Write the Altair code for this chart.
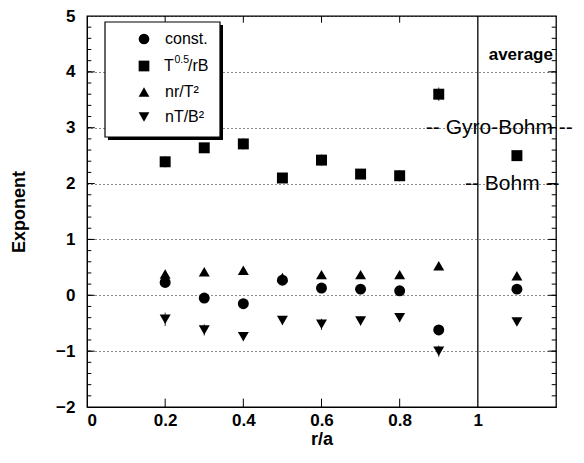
import altair as alt
import pandas as pd

# ---------------- data ----------------
r_pos = [0.2, 0.3, 0.4, 0.5, 0.6, 0.7, 0.8, 0.9]
avg_pos = 1.1
series_names = ["const.", "T05", "nr/T²", "nT/B²"]
series_shapes = ["circle", "square", "triangle-up", "triangle-down"]
t05_label_parts = ["T", "0.5", "/rB"]

const_vals = [0.23, -0.05, -0.15, 0.27, 0.13, 0.11, 0.08, -0.62]
const_avg = 0.11
const_err = [0.06, 0.07, 0.07, 0.06, 0.06, 0.06, 0.06, 0.07]
const_avg_err = 0.03

t05_vals = [2.39, 2.64, 2.71, 2.10, 2.42, 2.17, 2.14, 3.60]
t05_avg = 2.50
t05_err = [0.10, 0.08, 0.10, 0.06, 0.10, 0.08, 0.10, 0.12]
t05_avg_err = 0.04

nr_vals = [0.38, 0.42, 0.45, 0.32, 0.37, 0.37, 0.37, 0.53]
nr_avg = 0.35
nr_err = [0.05, 0.04, 0.04, 0.04, 0.04, 0.04, 0.04, 0.05]
nr_avg_err = 0.02

nt_vals = [-0.43, -0.62, -0.74, -0.45, -0.52, -0.46, -0.40, -1.00]
nt_avg = -0.48
nt_err = [0.12, 0.10, 0.08, 0.08, 0.10, 0.08, 0.08, 0.10]
nt_avg_err = 0.03

y_tick_labels = [-2, -1, 0, 1, 2, 3, 4, 5]
x_tick_labels = [0, 0.2, 0.4, 0.6, 0.8, 1]
y_minor = [round(-2 + 0.2 * i, 1) for i in range(1, 35)]
y_major = [-1, 0, 1, 2, 3, 4]
x_inner_ticks = [0.2, 0.4, 0.6, 0.8]

annotations = ["average", "-- Gyro-Bohm --", "-- Bohm --"]
annot_x = [1.11, 1.055, 1.088]
annot_y = [4.3, 3.0, 2.0]

X_DOM = [0, 1.2]
Y_DOM = [-2, 5]

# ---------------- tables ----------------
rows = []
for name, vals, avg, errs, aerr in [
    (series_names[0], const_vals, const_avg, const_err, const_avg_err),
    (series_names[1], t05_vals, t05_avg, t05_err, t05_avg_err),
    (series_names[2], nr_vals, nr_avg, nr_err, nr_avg_err),
    (series_names[3], nt_vals, nt_avg, nt_err, nt_avg_err),
]:
    for x, v, e in zip(r_pos + [avg_pos], vals + [avg], errs + [aerr]):
        rows.append({"r": x, "v": v, "lo": v - e, "hi": v + e, "series": name})
df = pd.DataFrame(rows)

xs = alt.Scale(domain=X_DOM, nice=False, zero=False)
ys = alt.Scale(domain=Y_DOM, nice=False, zero=False)

FONT = "Liberation Sans"

base_axes = alt.Chart(pd.DataFrame({"r": [0.0], "v": [0.0]})).mark_point(opacity=0).encode(
    x=alt.X("r:Q", scale=xs, title="r/a",
            axis=alt.Axis(values=x_tick_labels, format="~g", grid=False, ticks=False,
                          labelPadding=5, titlePadding=2, domainColor="black")),
    y=alt.Y("v:Q", scale=ys, title="Exponent",
            axis=alt.Axis(values=y_tick_labels, format="d", grid=True, gridDash=[1, 3],
                          gridColor="black", gridOpacity=0.9, ticks=False, labelPadding=12,
                          titlePadding=27, domainColor="black")),
)

# inward ticks
def hticks(vals, x0, x1):
    d = pd.DataFrame({"y": vals, "x0": [x0] * len(vals), "x1": [x1] * len(vals)})
    return alt.Chart(d).mark_rule(color="black", strokeWidth=1).encode(
        x=alt.X("x0:Q", scale=xs), x2="x1", y=alt.Y("y:Q", scale=ys))

def vticks(vals, y0, y1):
    d = pd.DataFrame({"x": vals, "y0": [y0] * len(vals), "y1": [y1] * len(vals)})
    return alt.Chart(d).mark_rule(color="black", strokeWidth=1).encode(
        x=alt.X("x:Q", scale=xs), y=alt.Y("y0:Q", scale=ys), y2="y1")

ticks = [
    hticks(y_minor, 0, 0.011),
    hticks(y_major, 0, 0.02),
    hticks(y_minor, 1.2 - 0.011, 1.2),
    hticks(y_major, 1.2 - 0.02, 1.2),
    vticks(x_inner_ticks, -2, -2 + 0.15),
    vticks(x_inner_ticks, 5 - 0.12, 5),
]

divider = alt.Chart(pd.DataFrame({"x": [1.0], "y0": [-2], "y1": [5]})).mark_rule(
    color="black", strokeWidth=1.3).encode(
    x=alt.X("x:Q", scale=xs), y=alt.Y("y0:Q", scale=ys), y2="y1")

errbars = alt.Chart(df).mark_rule(color="black", strokeWidth=0.8).encode(
    x=alt.X("r:Q", scale=xs), y=alt.Y("lo:Q", scale=ys), y2="hi")

# legend frame with drop shadow (drawn as marks so that text can sit on top)
one = pd.DataFrame({"a": [0]})
shadow = alt.Chart(one).mark_rect(color="black").encode(
    x=alt.value(21), x2=alt.value(136), y=alt.value(9), y2=alt.value(124))
frame = alt.Chart(one).mark_rect(fill="white", stroke="black", strokeWidth=1.2).encode(
    x=alt.value(18), x2=alt.value(133), y=alt.value(6), y2=alt.value(121))

points = alt.Chart(df).mark_point(filled=True, opacity=1, color="black", size=120).encode(
    x=alt.X("r:Q", scale=xs),
    y=alt.Y("v:Q", scale=ys),
    shape=alt.Shape("series:N", sort=series_names,
                    scale=alt.Scale(domain=series_names, range=series_shapes),
                    legend=alt.Legend(title=None, orient="none", legendX=18, legendY=6,
                                      padding=9, symbolOffset=22, labelOffset=13,
                                      rowPadding=9, labelFontSize=16, labelFont=FONT,
                                      symbolSize=115, symbolFillColor="black",
                                      symbolStrokeColor="black", labelColor="black",
                                      labelExpr="datum.label == 'T05' ? '' : datum.label")),
)

# superscripted legend label T^0.5/rB
sup_df = pd.DataFrame({"t": t05_label_parts, "px": [77, 87.5, 101], "py": [50, 44, 50],
                       "fs": [16, 10.5, 16]})
sup_text = alt.Chart(sup_df).mark_text(font=FONT, color="black", align="left",
                                       baseline="middle").encode(
    x=alt.X("px:Q", scale=None), y=alt.Y("py:Q", scale=None), text="t:N",
    size=alt.Size("fs:Q", scale=None, legend=None))

adf = pd.DataFrame({"t": annotations, "x": annot_x, "y": annot_y})
texts_avg = alt.Chart(adf.iloc[[0]]).mark_text(font=FONT, fontWeight="bold", fontSize=17,
                                                color="black", baseline="middle").encode(
    x=alt.X("x:Q", scale=xs), y=alt.Y("y:Q", scale=ys), text="t:N")
texts_gb = alt.Chart(adf.iloc[[1, 2]]).mark_text(font=FONT, fontSize=21, color="black",
                                                  baseline="middle").encode(
    x=alt.X("x:Q", scale=xs), y=alt.Y("y:Q", scale=ys), text="t:N")

chart = alt.layer(base_axes, *ticks, divider, errbars, points, shadow, frame, sup_text,
                  texts_avg, texts_gb).resolve_scale(x="shared", y="shared").properties(
    width=469, height=391,
    autosize=alt.AutoSizeParams(type="none"),
    padding={"left": 79, "top": 8, "right": 20, "bottom": 48},
).configure_view(stroke="black", strokeWidth=1.3).configure_axis(
    labelFont=FONT, labelFontSize=17, labelFontWeight="bold", labelColor="black",
    titleFont=FONT, titleFontSize=18, titleFontWeight="bold", titleColor="black",
)

chart.save("out.html", embed_options={"renderer": "svg", "actions": False})
